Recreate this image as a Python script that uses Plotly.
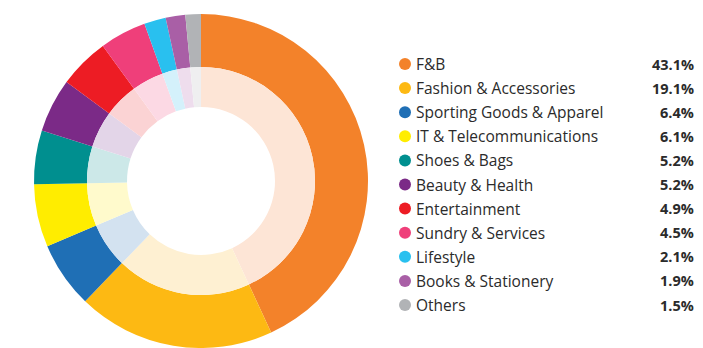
import plotly.graph_objects as go

categories = ["F&B", "Fashion & Accessories", "Sporting Goods & Apparel",
              "IT & Telecommunications", "Shoes & Bags", "Beauty & Health",
              "Entertainment", "Sundry & Services", "Lifestyle",
              "Books & Stationery", "Others"]
shares = [43.1, 19.1, 6.4, 6.1, 5.2, 5.2, 4.9, 4.5, 2.1, 1.9, 1.5]
outer_colors = ["#F3822A", "#FDB913", "#1F6FB5", "#FFED00", "#008F8F", "#7B2A87",
                "#ED1C24", "#EF3F7A", "#29C0EF", "#A95FA6", "#B1B3B6"]
inner_colors = ["#FDE5D6", "#FEF0D2", "#D3E2F0", "#FFFACC", "#CCE8E8", "#E3D5E8",
                "#FBD3D4", "#FCD9E4", "#D4F1FB", "#EEDDED", "#EFEFF0"]

W, H = 703, 348
cx, cy = 201, 181          # ring centre, px from top-left
r_out, r_mid, r_in = 167, 114, 74


def dom(r):
    return dict(x=[(cx - r) / W, (cx + r) / W],
                y=[(H - cy - r) / H, (H - cy + r) / H])


fig = go.Figure()
fig.add_trace(go.Pie(values=shares, labels=categories, sort=False, direction="clockwise",
                     rotation=0, hole=r_mid / r_out, domain=dom(r_out),
                     marker=dict(colors=outer_colors, line=dict(width=0)),
                     textinfo="none", hoverinfo="label+percent", showlegend=False))
fig.add_trace(go.Pie(values=shares, labels=categories, sort=False, direction="clockwise",
                     rotation=0, hole=r_in / r_mid, domain=dom(r_mid),
                     marker=dict(colors=inner_colors, line=dict(width=0)),
                     textinfo="none", hoverinfo="label+percent", showlegend=False))

# legend: dots, names and right-aligned percentages
row0, step = 64, 24.1
ys = [row0 + i * step for i in range(len(categories))]
fig.add_trace(go.Scatter(x=[405] * len(categories), y=ys, mode="markers",
                         marker=dict(size=12, color=outer_colors, line=dict(width=0)),
                         hoverinfo="skip", showlegend=False))
font = "'Open Sans', 'Noto Sans', sans-serif"
for name, v, y in zip(categories, shares, ys):
    fig.add_annotation(x=414, y=y, text=name, showarrow=False, xanchor="left",
                       yanchor="middle", font=dict(family=font, size=15.5, color="#2B2B2B"))
    fig.add_annotation(x=696, y=y, text=f"<b>{v:.1f}%</b>", showarrow=False,
                       xanchor="right", yanchor="middle",
                       font=dict(family=font, size=14.5, color="#2B2B2B"))

fig.update_layout(
    width=W, height=H, margin=dict(l=0, r=0, t=0, b=0),
    paper_bgcolor="white", plot_bgcolor="rgba(0,0,0,0)",
    xaxis=dict(range=[0, W], domain=[0, 1], visible=False, fixedrange=True),
    yaxis=dict(range=[H, 0], domain=[0, 1], visible=False, fixedrange=True),
)
fig.write_html("out.html")
